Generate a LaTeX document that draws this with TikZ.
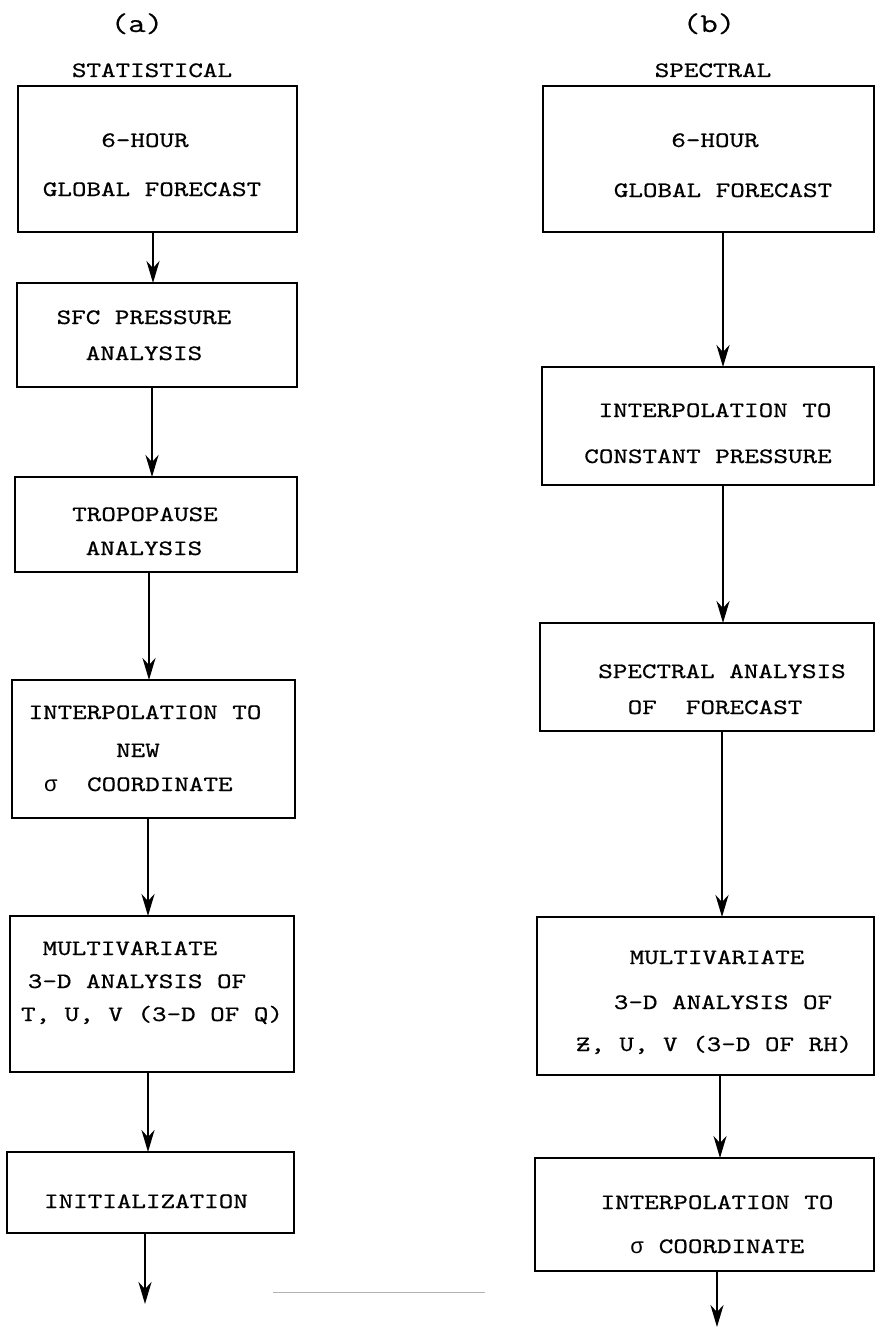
\documentclass[tikz,border=0pt]{standalone}
\usepackage{fontspec}
\newfontfamily\twfont[FakeStretch=1.26,FakeBold=0.6]{Latin Modern Mono}
\newfontfamily\sigfont{Liberation Mono}
\usetikzlibrary{arrows.meta}
\newcommand\mybox[5]{%
  \node[stepbox, minimum width={(#4-#2)*0.5pt}, minimum height={(#5-#3)*0.5pt}] (#1) at ({(#2+#4)/2},{(#3+#5)/2}) {};}
\newcommand\mytxt[4]{\node[txt] (#1) at (#2,#3) {#4};}
\newcommand\zbar{\rlap{Z}-}
\newcommand\sig{\makebox[7.28pt]{\sigfont σ}}
\begin{document}
\begin{tikzpicture}[x=0.5pt,y=-0.5pt,
  stepbox/.style={draw, line width=1.3pt, rectangle, inner sep=0pt, outer sep=0pt},
  txt/.style={anchor=base, inner sep=0pt, font=\twfont\fontsize{11pt}{14pt}\selectfont},
  head/.style={txt, font=\twfont\fontsize{13.5pt}{16pt}\selectfont},
  arr/.style={line width=1.2pt, -{Stealth[length=11pt, width=6.5pt, inset=3.5pt]}},
  scanline/.style={line width=0.5pt, gray!60}]
\useasboundingbox (0,0) rectangle (874,1327);
% headings
\node[head] (ha) at (137,32) {(a)};
\node[head] (hb) at (709,32) {(b)};
\mytxt{hst}{152}{77}{STATISTICAL}
\mytxt{hsp}{713}{77}{SPECTRAL}
% left boxes
\mybox{L1}{18}{86}{297}{232}
\mybox{L2}{17}{283}{297}{387}
\mybox{L3}{15}{477}{297}{572}
\mybox{L4}{12}{680}{295}{818}
\mybox{L5}{10}{916}{294}{1072}
\mybox{L6}{7}{1152}{294}{1233}
% right boxes
\mybox{R1}{543}{86}{874}{232}
\mybox{R2}{542}{367}{874}{485}
\mybox{R3}{540}{623}{874}{731}
\mybox{R4}{537}{917}{874}{1075}
\mybox{R5}{535}{1158}{874}{1271}
% left texts
\mytxt{l1a}{145}{147}{6-HOUR}
\mytxt{l1b}{152}{196}{GLOBAL FORECAST}
\mytxt{l2a}{144}{324}{SFC PRESSURE}
\mytxt{l2b}{144}{360}{ANALYSIS}
\mytxt{l3a}{145}{521}{TROPOPAUSE}
\mytxt{l3b}{144}{555}{ANALYSIS}
\mytxt{l4a}{145}{719}{INTERPOLATION TO}
\mytxt{l4b}{138}{757}{NEW}
\mytxt{l4c}{138}{791}{\sig~~COORDINATE}
\mytxt{l5a}{130}{955}{MULTIVARIATE}
\mytxt{l5b}{137}{988}{3-D ANALYSIS OF}
\mytxt{l5c}{152}{1021}{T, U, V (3-D OF Q)}
\mytxt{l6a}{146}{1208}{INITIALIZATION}
% right texts
\mytxt{r1a}{715}{147}{6-HOUR}
\mytxt{r1b}{723}{197}{GLOBAL FORECAST}
\mytxt{r2a}{715}{417}{INTERPOLATION TO}
\mytxt{r2b}{708}{463}{CONSTANT PRESSURE}
\mytxt{r3a}{722}{678}{SPECTRAL ANALYSIS}
\mytxt{r3b}{715}{714}{OF~~FORECAST}
\mytxt{r4a}{717}{964}{MULTIVARIATE}
\mytxt{r4b}{723}{1009}{3-D ANALYSIS OF}
\mytxt{r4c}{714}{1051}{\zbar, U, V (3-D OF RH)}
\mytxt{r5a}{717}{1209}{INTERPOLATION TO}
\mytxt{r5b}{717}{1253}{\sig{} COORDINATE}
% arrow columns
\coordinate (xa1) at (153,0);
\coordinate (xa2) at (152,0);
\coordinate (xa3) at (149,0);
\coordinate (xa4) at (148,0);
\coordinate (xa5) at (148,0);
\coordinate (Lend) at (145,1304);
\coordinate (xb1) at (723,0);
\coordinate (xb2) at (723,0);
\coordinate (xb3) at (722,0);
\coordinate (xb4) at (720,0);
\coordinate (Rend) at (717,1327);
% left connectors
\draw[arr] (L1.south -| xa1) -- (L2.north -| xa1);
\draw[arr] (L2.south -| xa2) -- (L3.north -| xa2);
\draw[arr] (L3.south -| xa3) -- (L4.north -| xa3);
\draw[arr] (L4.south -| xa4) -- (L5.north -| xa4);
\draw[arr] (L5.south -| xa5) -- (L6.north -| xa5);
\draw[arr] (L6.south -| Lend) -- (Lend);
% right connectors
\draw[arr] (R1.south -| xb1) -- (R2.north -| xb1);
\draw[arr] (R2.south -| xb2) -- (R3.north -| xb2);
\draw[arr] (R3.south -| xb3) -- (R4.north -| xb3);
\draw[arr] (R4.south -| xb4) -- (R5.north -| xb4);
\draw[arr] (R5.south -| Rend) -- (Rend);
% faint scan line
\coordinate (s1) at (273,1292);
\coordinate (s2) at (485,1292);
\draw[scanline] (s1) -- (s2);
\end{tikzpicture}
\end{document}
